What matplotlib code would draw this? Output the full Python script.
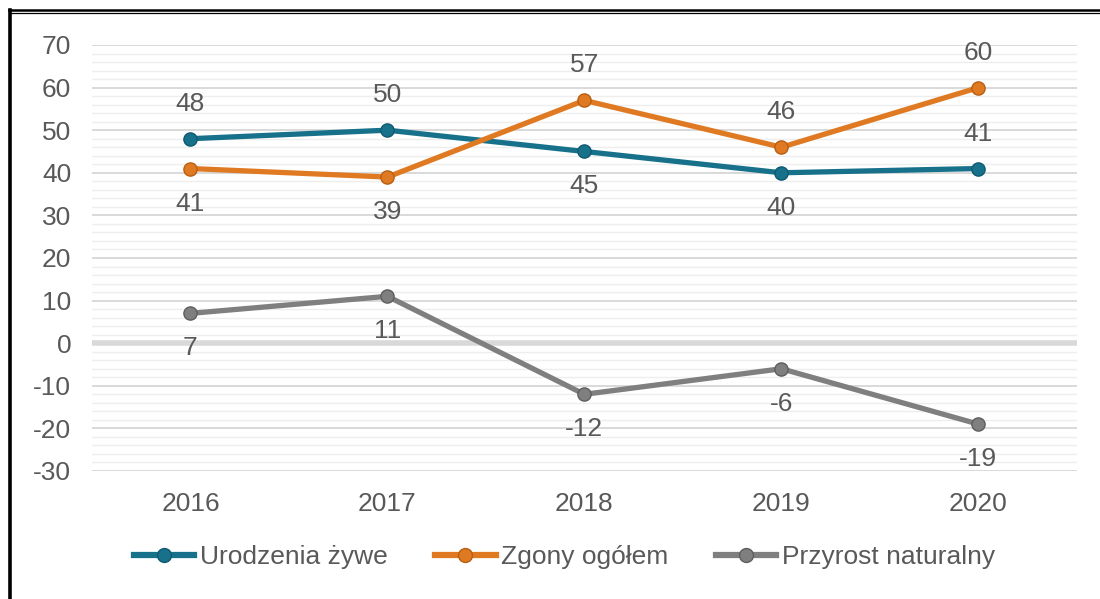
import matplotlib.pyplot as plt
from matplotlib.lines import Line2D
from matplotlib.ticker import MultipleLocator

# dane
lata = ['2016', '2017', '2018', '2019', '2020']
urodzenia = [48, 50, 45, 40, 41]
zgony = [41, 39, 57, 46, 60]
przyrost = [7, 11, -12, -6, -19]

# położenie etykiet: 1 = nad punktem, -1 = pod punktem
poz_urodzenia = [1, 1, -1, -1, 1]
poz_zgony = [-1, -1, 1, 1, 1]
poz_przyrost = [-1, -1, -1, -1, -1]

plt.rcParams['font.family'] = ['Liberation Sans', 'DejaVu Sans']
plt.rcParams['axes.unicode_minus'] = False
kolor_tekstu = '#595959'
rozmiar = 19

fig = plt.figure(figsize=(11, 5.99), dpi=100)
ax = fig.add_axes([0.0836, 0.2137, 0.8954, 0.7112])

x = list(range(len(lata)))
serie = [
    ('Urodzenia żywe', urodzenia, poz_urodzenia, '#17718A', '#0F5A70'),
    ('Zgony ogółem', zgony, poz_zgony, '#E07A22', '#B85E12'),
    ('Przyrost naturalny', przyrost, poz_przyrost, '#7F7F7F', '#5E5E5E'),
]
for nazwa, wart, poz, kolor, brzeg in serie:
    ax.plot(x, wart, color=kolor, lw=3.8, marker='o', ms=9.5,
            mfc=kolor, mec=brzeg, mew=1, label=nazwa, zorder=3,
            solid_capstyle='round')
    for xi, v, p in zip(x, wart, poz):
        ax.annotate(str(v), (xi, v), xytext=(0, 35 * p), textcoords='offset pixels',
                    ha='center', va='center', fontsize=rozmiar, color=kolor_tekstu)

ax.set_xlim(-0.5, 4.5)
ax.set_ylim(-30, 70)
ax.yaxis.set_major_locator(MultipleLocator(10))
ax.yaxis.set_minor_locator(MultipleLocator(2))
ax.set_xticks(x)
ax.set_xticklabels(lata)
ax.grid(which='major', axis='y', color='#D9D9D9', lw=1.4, zorder=1)
ax.grid(which='minor', axis='y', color='#EEEEEE', lw=1.0, zorder=1)
ax.axhline(0, color='#D9D9D9', lw=4, zorder=2)
for s in ax.spines.values():
    s.set_visible(False)
ax.tick_params(axis='both', which='both', length=0, labelsize=rozmiar, colors=kolor_tekstu)
ax.tick_params(axis='y', pad=15)
ax.tick_params(axis='x', pad=15)

uchwyty = [Line2D([0], [0], color=k, lw=4.5, marker='o', ms=10, mfc=k, mec=b)
           for _, _, _, k, b in serie]
fig.legend(uchwyty, [s[0] for s in serie], loc='center', bbox_to_anchor=(0.513, 0.07),
           ncol=3, frameon=False, fontsize=rozmiar, labelcolor=kolor_tekstu,
           handlelength=2.3, handletextpad=0.2, columnspacing=1.8)

# ramka
fig.add_artist(Line2D([0.0091, 0.0091], [0.0, 0.984], color='black', lw=2.6,
                      transform=fig.transFigure))
fig.add_artist(Line2D([0.008, 1.0], [0.984, 0.984], color='black', lw=1.8,
                      transform=fig.transFigure))
fig.add_artist(Line2D([0.0091, 1.0], [0.979, 0.979], color='black', lw=0.9,
                      transform=fig.transFigure))

fig.savefig('out.png', dpi=100)
